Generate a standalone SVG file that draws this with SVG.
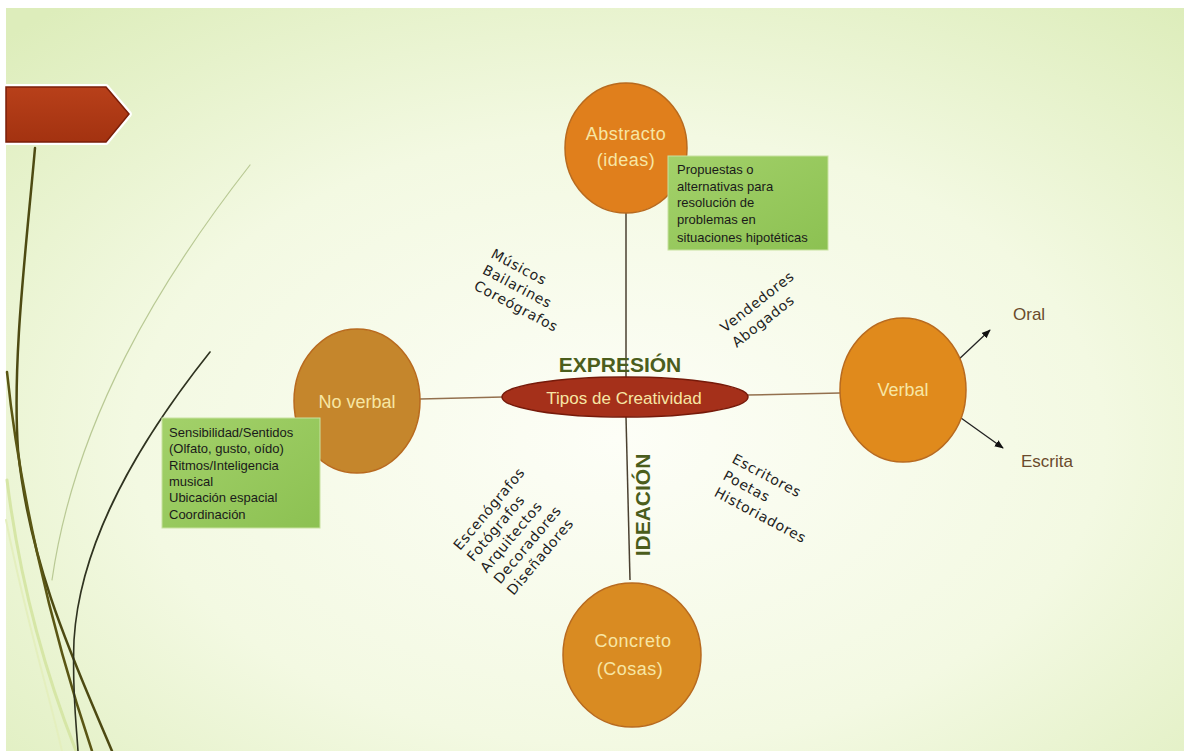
<svg xmlns="http://www.w3.org/2000/svg" width="1184" height="751" viewBox="0 0 1184 751">
  <defs>
    <radialGradient id="bg" cx="52%" cy="58%" r="75%">
      <stop offset="0" stop-color="#fdfef7"/>
      <stop offset="0.55" stop-color="#f3f9e2"/>
      <stop offset="1" stop-color="#ddedbb"/>
    </radialGradient>
    <linearGradient id="boxFill" x1="0" y1="0" x2="1" y2="1">
      <stop offset="0" stop-color="#a3d16a"/>
      <stop offset="1" stop-color="#8cc152"/>
    </linearGradient>
    <linearGradient id="bannerFill" x1="0" y1="0" x2="0" y2="1">
      <stop offset="0" stop-color="#b8401a"/>
      <stop offset="1" stop-color="#a33210"/>
    </linearGradient>
    <marker id="arrow" viewBox="0 0 10 10" refX="9" refY="5" markerWidth="7" markerHeight="7" orient="auto">
      <path d="M0,1 L10,5 L0,9 z" fill="#111"/>
    </marker>
    <style>
      .node-text { font-family: "Liberation Sans", Arial, sans-serif; fill: #f7e6a4; text-anchor: middle; }
      .note { font-family: "Liberation Sans", Arial, sans-serif; font-size: 13px; fill: #1a1a1a; }
      .role { font-family: "DejaVu Sans", "Liberation Sans", sans-serif; font-size: 14px; fill: #1e1e1e; letter-spacing: 0.7px; }
      .axis { font-family: "Liberation Sans", Arial, sans-serif; font-size: 21px; font-weight: bold; fill: #4b5d1c; text-anchor: middle; }
      .wire { fill: none; stroke-width: 1.5; }
      .circle-edge { stroke: #b86a1e; stroke-width: 1.5; }
    </style>
  </defs>

  <!-- page background -->
  <rect x="0" y="0" width="1184" height="751" fill="#ffffff"/>
  <rect x="6" y="8" width="1178" height="743" fill="url(#bg)"/>

  <!-- decorative wisps on the left -->
  <g id="wisps" fill="none" stroke-linecap="round">
    <path d="M250,165 C160,280 75,420 52,580" stroke="#b9c994" stroke-width="1.2"/>
    <path d="M7,480 C22,600 52,690 76,751" stroke="#d6e6a6" stroke-width="3"/>
    <path d="M6,520 C26,620 48,690 62,751" stroke="#e4efbe" stroke-width="2"/>
    <path d="M35,148 C26,250 12,360 18,450 C30,570 78,670 112,751" stroke="#4d4a12" stroke-width="2.5"/>
    <path d="M7,372 C18,480 48,620 92,751" stroke="#5a5614" stroke-width="2.5"/>
    <path d="M210,352 C140,440 80,540 74,640 C72,690 76,720 78,751" stroke="#2f3320" stroke-width="1.6"/>
  </g>

  <!-- title tab -->
  <g id="banner">
    <polygon points="6,87 106,87 129,114 106,142 6,142" fill="none" stroke="#ffffff" stroke-width="6" stroke-linejoin="round"/>
    <polygon points="6,87 106,87 129,114 106,142 6,142" fill="url(#bannerFill)" stroke="#7a1e08" stroke-width="1.5"/>
  </g>

  <!-- connectors -->
  <g id="connectors">
    <line class="wire" x1="626" y1="213" x2="626" y2="378" stroke="#4a4030"/>
    <line class="wire" x1="626" y1="417" x2="630" y2="580" stroke="#4a4030"/>
    <line class="wire" x1="420" y1="399" x2="503" y2="397" stroke="#93704e"/>
    <line class="wire" x1="747" y1="395" x2="840" y2="393" stroke="#93704e"/>
    <line x1="957" y1="361" x2="990" y2="330" stroke="#222" stroke-width="1.3" marker-end="url(#arrow)"/>
    <line x1="961" y1="418" x2="1003" y2="448" stroke="#222" stroke-width="1.3" marker-end="url(#arrow)"/>
  </g>

  <!-- axis labels -->
  <text id="label-expresion" class="axis" x="620" y="372">EXPRESIÓN</text>
  <text id="label-ideacion" class="axis" transform="translate(650,505) rotate(-90)" x="0" y="0">IDEACIÓN</text>

  <!-- centre -->
  <g id="node-center">
    <ellipse cx="625" cy="397" rx="123" ry="20" fill="#a5301a" stroke="#761a0a" stroke-width="1.5"/>
    <text class="node-text" x="624" y="404" font-size="17">Tipos de Creatividad</text>
  </g>

  <!-- Abstracto -->
  <g id="node-abstracto">
    <ellipse class="circle-edge" cx="626" cy="148" rx="61" ry="65" fill="#e07f1c"/>
    <text class="node-text" x="626" y="140" font-size="18" letter-spacing="0.5">Abstracto</text>
    <text class="node-text" x="626" y="166" font-size="18" letter-spacing="0.5">(ideas)</text>
  </g>
  <g id="note-abstracto">
    <rect x="668" y="156" width="160" height="94" fill="url(#boxFill)" stroke="#c8e2a0" stroke-width="1"/>
    <text class="note" x="677" y="174">Propuestas o</text>
    <text class="note" x="677" y="191">alternativas para</text>
    <text class="note" x="677" y="207">resolución de</text>
    <text class="note" x="677" y="224">problemas en</text>
    <text class="note" x="677" y="242">situaciones hipotéticas</text>
  </g>

  <!-- No verbal -->
  <g id="node-noverbal">
    <ellipse class="circle-edge" cx="357" cy="401" rx="63" ry="72" fill="#c5862c" stroke="#a56a20"/>
    <text class="node-text" x="357" y="408" font-size="18">No verbal</text>
  </g>
  <g id="note-noverbal">
    <rect x="162" y="418" width="158" height="110" fill="url(#boxFill)" stroke="#c8e2a0" stroke-width="1"/>
    <text class="note" x="169" y="437">Sensibilidad/Sentidos</text>
    <text class="note" x="169" y="453">(Olfato, gusto, oído)</text>
    <text class="note" x="169" y="470">Ritmos/Inteligencia</text>
    <text class="note" x="169" y="486">musical</text>
    <text class="note" x="169" y="502">Ubicación espacial</text>
    <text class="note" x="169" y="519">Coordinación</text>
  </g>

  <!-- Verbal -->
  <g id="node-verbal">
    <ellipse class="circle-edge" cx="903" cy="390" rx="63" ry="72" fill="#e08a1c"/>
    <text class="node-text" x="903" y="396" font-size="18">Verbal</text>
  </g>
  <text id="label-oral" x="1013" y="320" font-family="Liberation Sans, Arial, sans-serif" font-size="17" fill="#6a4a2c">Oral</text>
  <text id="label-escrita" x="1021" y="467" font-family="Liberation Sans, Arial, sans-serif" font-size="17" fill="#6a4a2c">Escrita</text>

  <!-- Concreto -->
  <g id="node-concreto">
    <ellipse class="circle-edge" cx="632" cy="655" rx="69" ry="72" fill="#d98b22"/>
    <text class="node-text" x="633" y="647" font-size="18" letter-spacing="0.5">Concreto</text>
    <text class="node-text" x="630" y="675" font-size="18" letter-spacing="0.5">(Cosas)</text>
  </g>

  <!-- professions along the quadrants -->
  <g id="roles-noverbal" transform="translate(490,257) rotate(28)">
    <text class="role" x="0" y="0">Músicos</text>
    <text class="role" x="0" y="18">Bailarines</text>
    <text class="role" x="0" y="36">Coreógrafos</text>
  </g>
  <g id="roles-verbal" transform="translate(725,333) rotate(-38)">
    <text class="role" x="0" y="0">Vendedores</text>
    <text class="role" x="0" y="19">Abogados</text>
  </g>
  <g id="roles-escritura" transform="translate(731,462) rotate(28)">
    <text class="role" x="0" y="0">Escritores</text>
    <text class="role" x="0" y="19">Poetas</text>
    <text class="role" x="0" y="38">Historiadores</text>
  </g>
  <g id="roles-concreto" transform="translate(460,551) rotate(-50)">
    <text class="role" x="0" y="0">Escenógrafos</text>
    <text class="role" x="0" y="17.5">Fotógrafos</text>
    <text class="role" x="0" y="35">Arquitectos</text>
    <text class="role" x="0" y="52.5">Decoradores</text>
    <text class="role" x="0" y="70">Diseñadores</text>
  </g>
</svg>
